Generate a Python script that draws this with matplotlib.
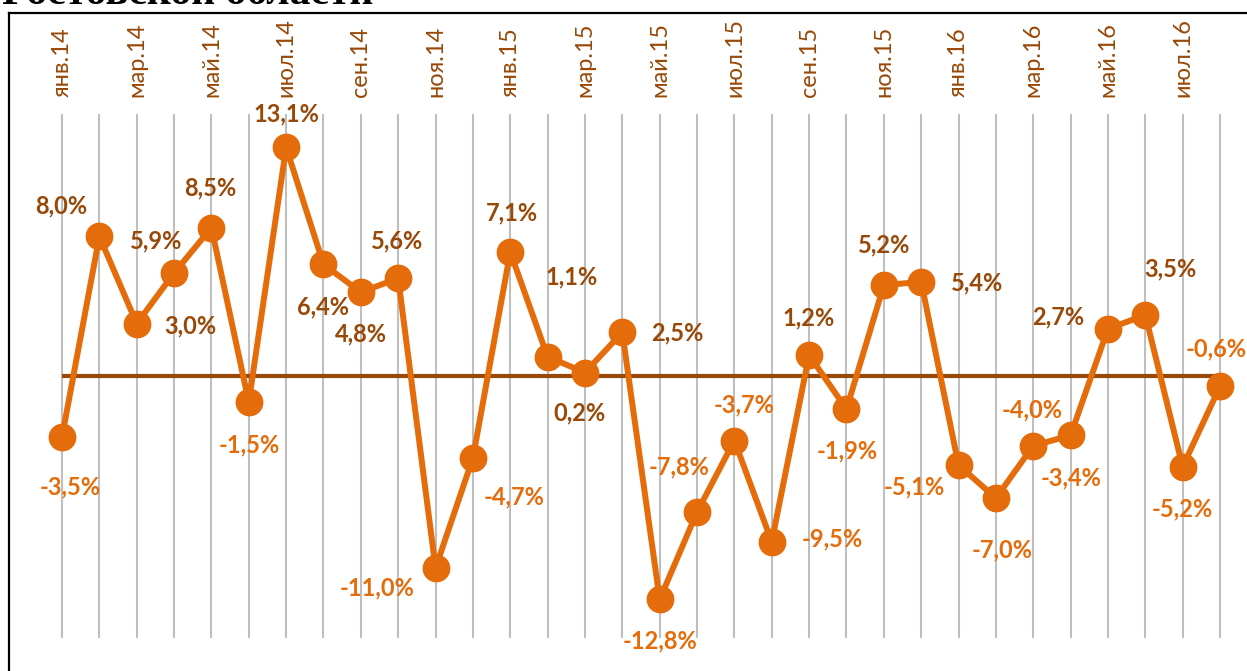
import numpy as np
import matplotlib
matplotlib.use("Agg")
import matplotlib.pyplot as plt
from matplotlib.lines import Line2D

# monthly growth, Jan 2014 - Aug 2016
months = ["янв.14", "фев.14", "мар.14", "апр.14", "май.14", "июн.14", "июл.14", "авг.14",
          "сен.14", "окт.14", "ноя.14", "дек.14", "янв.15", "фев.15", "мар.15", "апр.15",
          "май.15", "июн.15", "июл.15", "авг.15", "сен.15", "окт.15", "ноя.15", "дек.15",
          "янв.16", "фев.16", "мар.16", "апр.16", "май.16", "июн.16", "июл.16", "авг.16"]
values = [-3.5, 8.0, 3.0, 5.9, 8.5, -1.5, 13.1, 6.4, 4.8, 5.6, -11.0, -4.7,
          7.1, 1.1, 0.2, 2.5, -12.8, -7.8, -3.7, -9.5, 1.2, -1.9, 5.2, 5.4,
          -5.1, -7.0, -4.0, -3.4, 2.7, 3.5, -5.2, -0.6]

# label offsets in pixels (dx, dy), per point
label_offsets = [(8, -50), (-38, 30), (54, -2), (-18, 32), (-1, 40), (0, -43), (0, 33), (0, -43),
                 (0, -42), (-1, 37), (-58, -20), (41, -39), (2, 39), (24, 80), (-5, -40), (55, -1),
                 (0, -42), (-18, 45), (10, 36), (61, 3), (0, 37), (1, -42), (0, 40), (56, -1),
                 (-44, -22), (6, -52), (-1, 36), (0, -43), (-50, 12), (25, 46), (0, -42), (-4, 38)]

orange = "#E46C0A"
brown = "#984807"
grid = "#BFBFBF"

W, H = 1247, 671
fig = plt.figure(figsize=(W / 100, H / 100), dpi=100)
ax = fig.add_axes([0, 0, 1, 1])

x = np.arange(len(values))
px_x = 1158 / 31      # pixels per month
px_y = 17.45          # pixels per percent
ax.set_xlim(-62 / px_x, (W - 62) / px_x)
ax.set_ylim(-(H - 376) / px_y, 376 / px_y)
ax.axis("off")

# vertical gridlines
ax.vlines(x, -15, 15, color=grid, lw=1.5, zorder=1)
# zero line
ax.plot([0, len(values) - 1], [0, 0], color=brown, lw=3, zorder=2, solid_capstyle="butt")
# series
ax.plot(x, values, color=orange, lw=4.3, marker="o", ms=19, zorder=3)

for i, v in enumerate(values):
    txt = f"{v:.1f}".replace(".", ",") + "%"
    c = brown if v >= 0 else orange
    ax.annotate(txt, (i, v), xytext=label_offsets[i], textcoords="offset pixels",
                ha="center", va="center", fontsize=17, fontweight="bold",
                family="Lato", color=c, zorder=4)

# month labels on top, every other month
for i in range(0, len(months), 2):
    ax.text(i, 16.0, months[i], rotation=90, ha="center", va="bottom",
            fontsize=17, family="Lato", color=brown)

# frame and clipped title
fig.add_artist(Line2D([9 / W, 9 / W], [0, 1 - 13 / H], color="black", lw=1.6))
fig.add_artist(Line2D([9 / W, 1], [1 - 13 / H, 1 - 13 / H], color="black", lw=1.6))
fig.text(2 / W, 1 - 3.5 / H, "Ростовской области", fontsize=30, fontweight="bold",
         family="Liberation Serif", va="baseline", ha="left", color="black")

fig.savefig("out.png", dpi=100)
